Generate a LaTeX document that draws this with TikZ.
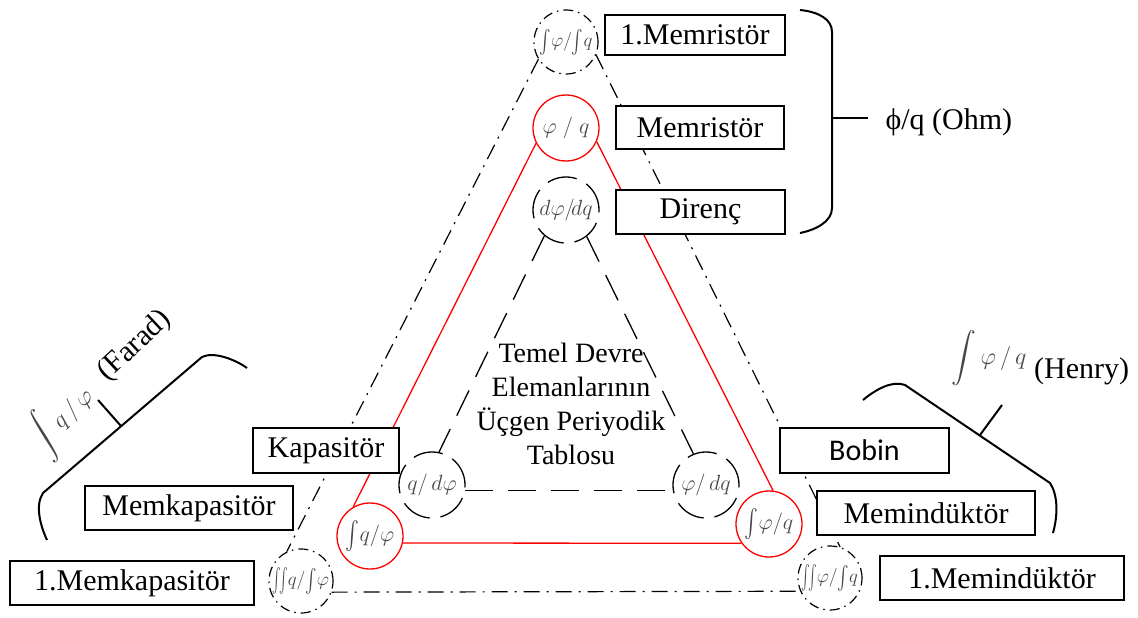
\RequirePackage{fix-cm}
\documentclass[tikz,border=0pt]{standalone}
\usepackage{amsmath}
\usepackage{graphicx}
\usepackage{fontspec}
\setmainfont{Liberation Serif}
\newfontfamily\calibfont{Carlito}
\newcommand{\igl}{\mathord{\vcenter{\hbox{\scalebox{1}[1.35]{$\int$}}}}}
\newcommand{\iigl}{\mathord{\vcenter{\hbox{\scalebox{0.75}[1.4]{$\iint$}}}}}
\begin{document}
\begin{tikzpicture}[x=1pt,y=-1pt,
  box/.style={draw, fill=white, line width=1.6pt, inner sep=0pt, font=\fontsize{30}{31}\selectfont},
  rcirc/.style={circle, draw=red, line width=1.3pt, minimum size=66pt, inner sep=0pt},
  dcirc/.style={circle, draw, line width=1.3pt, minimum size=66pt, inner sep=0pt, dash pattern=on 30pt off 11pt},
  ocirc/.style={circle, draw, line width=1.2pt, minimum size=64pt, inner sep=0pt, dash pattern=on 10pt off 5pt on 1.5pt off 5pt},
  mtxt/.style={text=black!72, font=\fontsize{22}{22}\selectfont},
  otxt/.style={text=black!72, font=\fontsize{19}{19}\selectfont},
  redline/.style={draw=red, line width=1.3pt},
  dline/.style={draw, line width=1.3pt, dash pattern=on 28pt off 15pt},
  oline/.style={draw, line width=1.2pt, dash pattern=on 16pt off 7pt on 2pt off 7pt},
  brace/.style={draw, line width=2pt},
  lbl/.style={font=\fontsize{30}{31}\selectfont},
  mlbl/.style={text=black!72, font=\fontsize{24}{24}\selectfont, inner sep=0pt}
]
\useasboundingbox (0,0) rectangle (1138,618);

% circles
\node[ocirc, otxt] (O1) at (566,42) {$\igl\varphi/\igl q$};
\node[ocirc, otxt] (O2) at (301,581) {$\iigl q/\igl\varphi$};
\node[ocirc, otxt] (O3) at (830,578) {$\iigl\varphi/\igl q$};
\node[rcirc, mtxt] (R1) at (566,128) {$\varphi\;/\;q$};
\node[rcirc, mtxt] (R2) at (370,536) {$\igl q/\varphi$};
\node[rcirc, mtxt] (R3) at (769,524) {$\igl\varphi/q$};
\node[dcirc, mtxt] (D1) at (566,210) {$d\varphi/\!dq$};
\node[dcirc, mtxt] (D2) at (432,485) {$q/\,d\varphi$};
\node[dcirc, mtxt] (D3) at (706,485) {$\varphi/\,dq$};

% triangles
\draw[oline] (O1.212) -- (O2.116);
\draw[oline] (O1.337) -- (O3.72);
\draw[oline] (O2.-20) -- (O3.204);
\draw[redline] (R1.207) -- (R2.120);
\draw[redline] (R1.336) -- (R3.83);
\draw[redline] (R2.-12) -- (R3.215);
\draw[dline] (D1.230) -- (D2.78);
\draw[dline] (D1.308) -- (D3.112);
\draw[dline] (D2.-9) -- (D3.189);

% boxes
\node[box, minimum width=180pt, minimum height=40pt] (m1) at (695,35) {1.Memristör};
\node[box, minimum width=168pt, minimum height=43pt] (mem) at (700,127.5) {Memristör};
\node[box, minimum width=169pt, minimum height=44pt] (dir) at (700.5,212) {Direnç};
\node[box, minimum width=146pt, minimum height=45pt] (kap) at (326,450.5) {Kapasitör};
\node[box, minimum width=208pt, minimum height=44pt] (memk) at (189,508) {Memkapasitör};
\node[box, minimum width=244pt, minimum height=44pt] (m1k) at (132,583) {1.Memkapasitör};
\node[box, minimum width=169pt, minimum height=45pt, font=\calibfont\fontsize{30}{31}\selectfont] (bob) at (864.5,450.5) {Bobin};
\node[box, minimum width=218pt, minimum height=44pt] (memi) at (926,513) {Memindüktör};
\node[box, minimum width=244pt, minimum height=44pt] (m1i) at (1002,578) {1.Memindüktör};

% centre text
\node[align=center, font=\fontsize{28}{34}\selectfont] (title) at (571,404) {Temel Devre\\Elemanlarının\\Üçgen Periyodik\\Tablosu};

% Ohm brace
\draw[brace] (800,10) .. controls (820,12) and (832,20) .. (832,32) -- (832,208) .. controls (832,222) and (815,230) .. (800,233);
\draw[brace] (832,118) -- (868,118);
\node[lbl, anchor=west] (ohm) at (882,122) {ϕ/q (Ohm)};

% Farad brace
\draw[brace] (247,368) .. controls (236,360) and (214,351) .. (202,357) -- (43,493) .. controls (35,505) and (40,525) .. (47,540);
\draw[brace] (121,426) -- (98,400);
\node[mlbl, rotate=43] (faradm) at (63,419) {$\displaystyle\int q\,/\,\varphi$};
\node[lbl, rotate=43, inner sep=0pt] (faradt) at (135,346) {(Farad)};

% Henry brace
\draw[brace] (863,400) .. controls (875,390) and (892,380) .. (905,385) -- (1050,483) .. controls (1058,495) and (1058,515) .. (1053,533);
\draw[brace] (980,435) -- (1002,405);
\node[mlbl] (henrym) at (989,358) {$\displaystyle\int\varphi\,/\,q$};
\node[lbl, anchor=base west, inner sep=0pt] (henryt) at (1034,378) {(Henry)};
\end{tikzpicture}
\end{document}
